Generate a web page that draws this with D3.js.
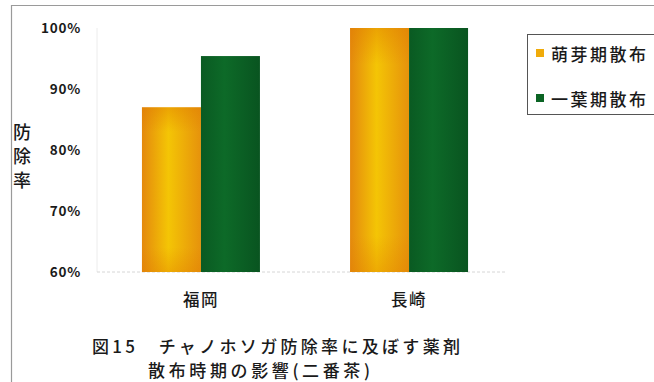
<!DOCTYPE html>
<html>
<head>
<meta charset="utf-8">
<script src="https://cdn.jsdelivr.net/npm/d3@7"></script>
<style>
  html, body { margin: 0; padding: 0; background: #fff; }
  svg { display: block; }
  text { font-family: "Noto Sans CJK JP", "Noto Sans", sans-serif; fill: #1a1a1a; }
</style>
</head>
<body>
<svg id="chart" width="654" height="382"></svg>
<script>
// Chart data
const categories = ["福岡", "長崎"];
const seriesNames = ["萌芽期散布", "一葉期散布"];
const budStage = [87, 100];      // 萌芽期散布 (%)
const oneLeafStage = [95.4, 100]; // 一葉期散布 (%)
const yTicks = [60, 70, 80, 90, 100];
const yLabel = ["防", "除", "率"];
const titleLines = ["図15　チャノホソガ防除率に及ぼす薬剤", "散布時期の影響(二番茶)"];

const svg = d3.select("#chart");
const W = 654, H = 382;

// Outer frame (left and top edges)
svg.append("path")
  .attr("d", `M11.5,${H} V5.5 H${W}`)
  .attr("fill", "none").attr("stroke", "#9a9a9a").attr("stroke-width", 1.2);

// Gradients
const defs = svg.append("defs");
const og = defs.append("linearGradient").attr("id", "orangeGrad")
  .attr("x1", "0").attr("x2", "1").attr("y1", "0").attr("y2", "0");
og.append("stop").attr("offset", "0%").attr("stop-color", "#e4890e");
og.append("stop").attr("offset", "45%").attr("stop-color", "#f4c505");
og.append("stop").attr("offset", "100%").attr("stop-color", "#e6920c");
const ov = defs.append("linearGradient").attr("id", "orangeShade")
  .attr("x1", "0").attr("x2", "0").attr("y1", "0").attr("y2", "1");
ov.append("stop").attr("offset", "0%").attr("stop-color", "#e07a00").attr("stop-opacity", 0.45);
ov.append("stop").attr("offset", "15%").attr("stop-color", "#e07a00").attr("stop-opacity", 0.0);
ov.append("stop").attr("offset", "85%").attr("stop-color", "#e07a00").attr("stop-opacity", 0.0);
ov.append("stop").attr("offset", "100%").attr("stop-color", "#e07a00").attr("stop-opacity", 0.35);
const gg = defs.append("linearGradient").attr("id", "greenGrad")
  .attr("x1", "0").attr("x2", "1").attr("y1", "0").attr("y2", "0");
gg.append("stop").attr("offset", "0%").attr("stop-color", "#0a5a22");
gg.append("stop").attr("offset", "40%").attr("stop-color", "#0d6a28");
gg.append("stop").attr("offset", "100%").attr("stop-color", "#095420");

// Scales
const x0 = d3.scaleBand().domain(categories).range([97, 513])
  .paddingInner(0.433).paddingOuter(0.216);
const x1 = d3.scaleBand().domain(seriesNames).range([0, x0.bandwidth()]);
const y = d3.scaleLinear().domain([60, 100]).range([272, 28]);

// Faint plot edges
svg.append("line").attr("x1", 97).attr("x2", 97).attr("y1", 28).attr("y2", 272)
  .attr("stroke", "#ececec").attr("stroke-width", 1);
svg.append("line").attr("x1", 97).attr("x2", 505).attr("y1", 272).attr("y2", 272)
  .attr("stroke", "#d6d6d6").attr("stroke-width", 1).attr("stroke-dasharray", "3,2");

// Y axis tick labels
const yAxis = d3.axisLeft(y).tickValues(yTicks).tickSize(0).tickPadding(0)
  .tickFormat(d => d + "%");
const gy = svg.append("g").attr("transform", "translate(81,0)").call(yAxis);
gy.select(".domain").remove();
gy.selectAll("text").style("font-family", "'Noto Sans CJK JP', sans-serif")
  .style("font-size", "13.5px").style("font-weight", "700").style("letter-spacing", "0.8px")
  .attr("fill", "#1a1a1a").attr("dy", "0.36em");

// Y axis title: one text, one character per line
const yt = svg.append("text").attr("text-anchor", "middle")
  .style("font-size", "18px").style("font-weight", "500");
yt.selectAll("tspan").data(yLabel).join("tspan")
  .attr("x", 22).attr("y", (d, i) => 139 + i * 24)
  .text(d => d);

// Bars
const rows = categories.map((c, i) => ({ cat: c, vals: [budStage[i], oneLeafStage[i]] }));
const fills = ["url(#orangeGrad)", "url(#greenGrad)"];
const groups = svg.append("g").selectAll("g").data(rows).join("g")
  .attr("transform", d => `translate(${x0(d.cat)},0)`);
groups.selectAll("rect.bar").data(d => d.vals.map((v, j) => ({ v, j }))).join("rect")
  .attr("class", "bar")
  .attr("x", d => x1(seriesNames[d.j]))
  .attr("width", x1.bandwidth())
  .attr("y", d => y(d.v))
  .attr("height", d => y(60) - y(d.v))
  .attr("fill", d => fills[d.j]);
groups.selectAll("rect.shade").data(d => d.vals.map((v, j) => ({ v, j })).filter(e => e.j === 0)).join("rect")
  .attr("class", "shade")
  .attr("x", d => x1(seriesNames[d.j]))
  .attr("width", x1.bandwidth())
  .attr("y", d => y(d.v))
  .attr("height", d => y(60) - y(d.v))
  .attr("fill", "url(#orangeShade)");

// Category labels
const xAxis = d3.axisBottom(x0).tickSize(0).tickPadding(0);
const gx = svg.append("g").attr("transform", "translate(0,300)").call(xAxis);
gx.select(".domain").remove();
gx.selectAll("text").style("font-family", "'Noto Sans CJK JP', sans-serif")
  .style("font-size", "16.5px").style("font-weight", "500").style("letter-spacing", "1.5px")
  .attr("fill", "#1a1a1a").attr("dy", "0.36em").attr("y", 0);

// Legend
const lg = svg.append("g");
lg.append("rect").attr("x", 527.5).attr("y", 34.5).attr("width", 140).attr("height", 80)
  .attr("fill", "#fff").attr("stroke", "#555").attr("stroke-width", 1);
const legendColors = ["#f0ab0a", "#0b6424"];
seriesNames.forEach((s, i) => {
  const cy = 53 + i * 45;
  lg.append("rect").attr("x", 536).attr("y", cy - 4).attr("width", 8).attr("height", 8)
    .attr("fill", legendColors[i]);
  lg.append("text").attr("x", 551).attr("y", cy).attr("dominant-baseline", "central")
    .style("font-size", "17px").style("font-weight", "500").style("letter-spacing", "2.5px")
    .text(s);
});

// Caption: two lines
const capX = [92, 148], capLen = [368, 222], capY = [352.5, 377];
svg.append("g").selectAll("text").data(titleLines).join("text")
  .attr("x", (d, i) => capX[i]).attr("y", (d, i) => capY[i])
  .attr("textLength", (d, i) => capLen[i]).attr("lengthAdjust", "spacing")
  .style("font-size", "17px").style("font-weight", "500")
  .text(d => d);
</script>
</body>
</html>
